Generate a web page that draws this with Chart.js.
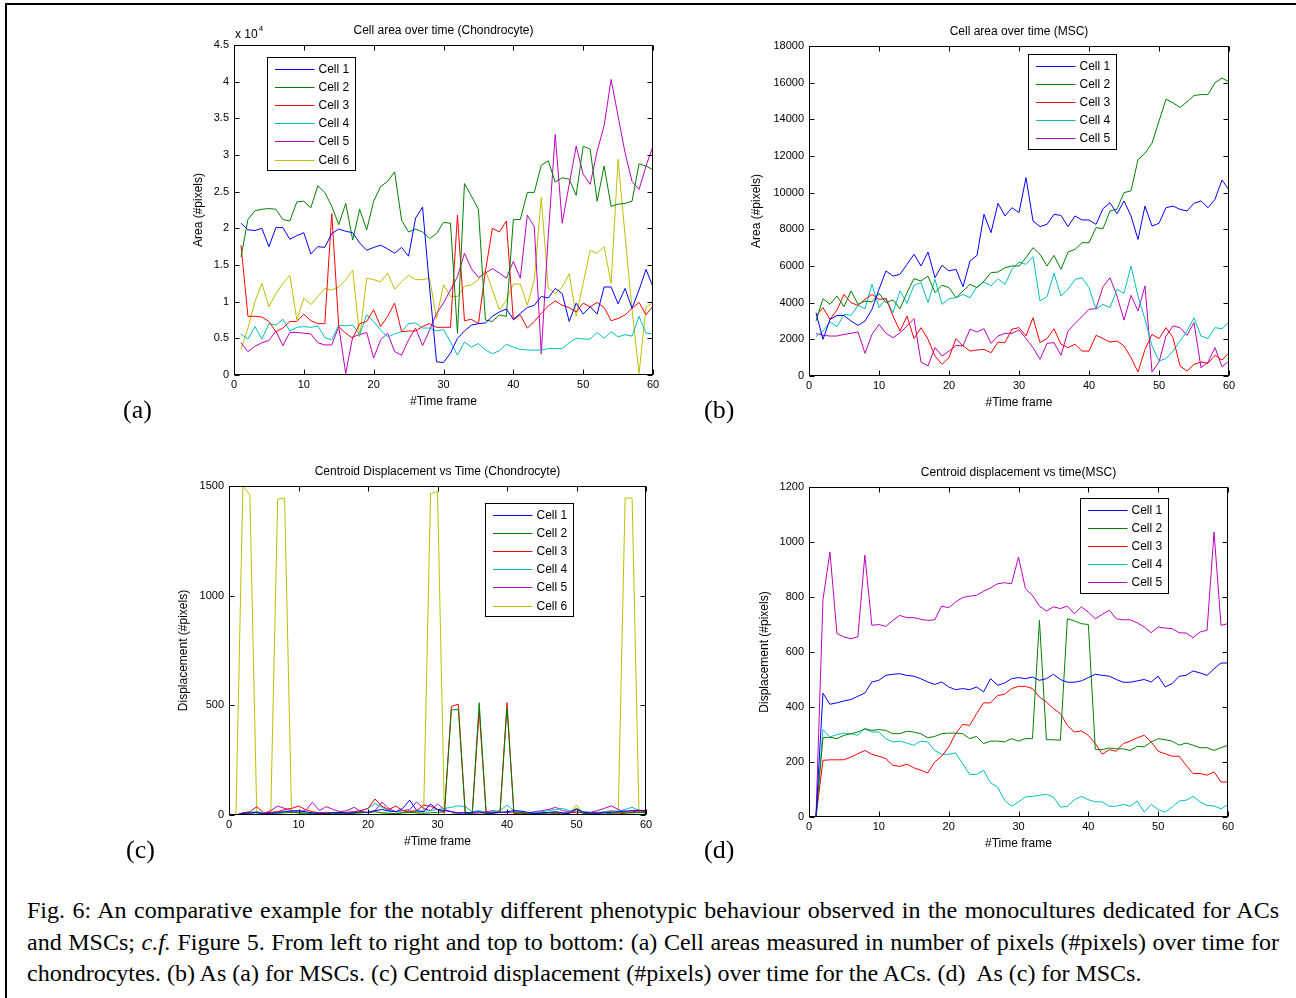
<!DOCTYPE html>
<html>
<head>
<meta charset="utf-8">
<title>Cell area and centroid displacement</title>
<script src="https://cdn.jsdelivr.net/npm/chart.js@4.4.1/dist/chart.umd.min.js"></script>
<style>
  html, body { margin: 0; padding: 0; background: #fff; }
  body { position: relative; width: 1296px; height: 998px; overflow: hidden; }
  .sheet { position: absolute; left: 5px; top: 3px; width: 1400px; height: 1100px;
           border-left: 2px solid #000; border-top: 2px solid #000; }
  canvas { position: absolute; }
  .tag { position: absolute; font: 26px "Liberation Serif", "Times New Roman", serif; color: #000; line-height: 26px; }
  .cap { position: absolute; left: 27px; width: 1252px; color: #000; white-space: nowrap;
         font: 24px "Liberation Serif", "Times New Roman", serif; line-height: 32px; }
  .cap span { display: inline-block; }
</style>
</head>
<body>
<div class="sheet"></div>
<canvas id="chartA"></canvas>
<canvas id="chartB"></canvas>
<canvas id="chartC"></canvas>
<canvas id="chartD"></canvas>

<div class="tag" style="left:123px; top:397px;">(a)</div>
<div class="tag" style="left:704px; top:397px;">(b)</div>
<div class="tag" style="left:126px; top:837px;">(c)</div>
<div class="tag" style="left:704px; top:837px;">(d)</div>

<div class="cap" style="top:894px;"><span class="just">Fig. 6: An comparative example for the notably different phenotypic behaviour observed in the monocultures dedicated for ACs</span></div>
<div class="cap" style="top:926px;"><span class="just">and MSCs; <i>c.f.</i> Figure 5. From left to right and top to bottom: (a) Cell areas measured in number of pixels (#pixels) over time for</span></div>
<div class="cap" style="top:957px;"><span>chondrocytes. (b) As (a) for MSCs. (c) Centroid displacement (#pixels) over time for the ACs. (d)&nbsp; As (c) for MSCs.</span></div>

<script>
// time frames (x axis)
const frames = [1,2,3,4,5,6,7,8,9,10,11,12,13,14,15,16,17,18,19,20,
  21,22,23,24,25,26,27,28,29,30,31,32,33,34,35,36,37,38,39,40,
  41,42,43,44,45,46,47,48,49,50,51,52,53,54,55,56,57,58,59,60];

const cells6 = ['Cell 1', 'Cell 2', 'Cell 3', 'Cell 4', 'Cell 5', 'Cell 6'];
const cells5 = ['Cell 1', 'Cell 2', 'Cell 3', 'Cell 4', 'Cell 5'];

// (a) cell area, chondrocytes, in units of 10^4 pixels
const areaChondro1 = [2.07,1.98,1.97,2.0,1.75,2.01,2.01,1.85,1.9,1.94, 1.65,1.75,1.74,1.93,1.99,1.96,1.94,1.8,1.7,1.74,
  1.77,1.72,1.66,1.74,1.62,2.14,2.29,1.2,0.18,0.17, 0.3,0.5,0.6,0.68,0.7,0.71,0.8,0.86,0.9,0.76,
  0.84,0.92,0.95,1.07,1.05,1.18,1.11,0.73,0.98,0.83, 0.93,0.83,1.2,1.2,0.97,1.18,0.91,1.16,1.44,1.2];
const areaChondro2 = [1.61,2.12,2.24,2.26,2.27,2.26,2.12,2.1,2.36,2.37, 2.28,2.58,2.49,2.3,2.05,2.34,1.84,2.26,1.98,2.37,
  2.57,2.64,2.77,2.11,1.95,1.99,1.95,1.86,1.93,2.08, 2.07,0.57,2.61,2.44,2.26,0.75,0.73,0.82,0.8,2.12,
  2.12,2.49,2.49,2.86,2.92,2.63,2.69,2.67,2.45,3.12, 3.08,2.37,2.85,2.3,2.33,2.34,2.37,2.88,2.85,2.8];
const areaChondro3 = [1.77,0.8,0.8,0.79,0.73,0.59,0.64,0.73,0.73,0.83, 0.74,0.7,0.7,2.2,0.66,0.57,0.5,0.7,0.73,0.89,
  0.66,0.8,0.98,0.59,0.6,0.6,0.66,0.7,0.65,0.65, 0.65,2.18,0.74,0.76,0.7,1.41,2.0,1.95,2.1,0.75,
  0.82,0.64,0.73,0.84,0.94,1.01,0.95,0.92,0.86,0.98, 0.93,0.99,0.92,0.74,0.77,0.82,0.91,0.99,0.82,0.94];
const areaChondro4 = [0.56,0.49,0.66,0.49,0.7,0.68,0.76,0.6,0.65,0.66, 0.65,0.67,0.51,0.48,0.68,0.67,0.68,0.55,0.82,0.73,
  0.61,0.52,0.56,0.59,0.7,0.71,0.64,0.64,0.6,0.62, 0.45,0.27,0.45,0.38,0.43,0.34,0.29,0.33,0.42,0.38,
  0.35,0.34,0.34,0.34,0.36,0.36,0.36,0.44,0.5,0.49, 0.49,0.58,0.5,0.59,0.52,0.55,0.53,0.8,0.57,0.56];
const areaChondro5 = [0.44,0.32,0.39,0.44,0.47,0.6,0.4,0.58,0.58,0.57, 0.56,0.44,0.41,0.41,0.66,0.02,0.52,0.55,0.58,0.23,
  0.48,0.57,0.32,0.27,0.48,0.64,0.4,0.61,0.84,0.98, 1.16,1.34,1.66,1.45,1.33,1.39,1.45,1.39,1.32,1.55,
  1.32,2.18,2.02,0.29,1.9,3.28,2.07,2.6,3.12,2.74, 2.6,3.05,3.4,4.03,3.53,3.03,2.64,2.53,2.85,3.12];
const areaChondro6 = [0.35,0.64,1.0,1.25,0.93,1.11,1.25,1.36,0.75,1.05, 0.96,1.07,1.18,1.16,1.2,1.3,1.43,0.52,1.32,1.3,
  1.27,1.39,1.17,1.27,1.36,1.3,1.3,1.32,0.77,1.23, 1.07,1.07,1.21,1.23,1.3,1.43,1.16,0.89,1.02,1.24,
  1.24,0.95,1.3,2.42,1.18,1.11,1.2,1.38,0.8,1.25, 1.7,1.66,1.75,1.25,2.94,1.9,0.9,0.02,0.93,0.98];

// (b) cell area, MSCs, pixels
const areaMsc1 = [3450,2000,3090,3300,3300,3000,2760,3000,3640,4730, 5730,5450,5550,6090,6640,6000,6760,5360,6040,5730,
  5820,4870,6270,6580,8820,7820,9420,8730,9180,8910, 10820,8450,8150,8270,8820,8760,8150,8730,8510,8510,
  8270,9130,9450,8850,9550,8730,7450,9270,8180,8330, 9180,9270,9090,9000,9420,9550,9180,9640,10690,10150];
const areaMsc2 = [3000,4220,3910,4360,3780,4640,3910,4090,4040,4510, 4000,4150,3670,4550,5310,5180,5450,4550,4950,4820,
  4270,4640,5000,4820,5180,5640,5670,5910,6000,6000, 6450,7000,6640,6000,6580,5820,6760,6910,7270,7270,
  8090,8040,9000,9100,10000,10100,11800,12150,12700,13900, 15100,14900,14650,14950,15300,15350,15350,16000,16250,16050];
const areaMsc3 = [3270,3730,3090,3600,4450,4000,3850,4180,4450,4180, 4220,3270,2450,3270,2040,2640,2000,1090,640,1000,
  2040,1640,1360,1420,1450,1270,1850,1820,2550,2640, 2180,3180,1820,2040,2580,1730,1550,1730,1360,1360,
  2220,2040,1850,1910,1640,1000,220,1450,2270,2040, 2640,2090,550,270,640,760,690,1130,870,1270];
const areaMsc4 = [2150,2450,2950,2690,3360,3310,3850,3670,5000,3730, 4220,3450,4640,3960,4950,5090,4000,5270,3910,4220,
  4270,4450,4270,4870,5130,4910,5310,5000,5820,6220, 6090,6510,4090,4330,5600,4360,4730,5270,5360,4820,
  3640,3910,3730,4730,4510,6000,4360,3090,1640,820, 950,1360,1910,2450,3180,2180,2040,2640,2580,2950];
const areaMsc5 = [2310,2220,2180,2180,2270,2330,2400,1240,2270,2820, 2330,2090,2360,2730,3130,760,550,1550,1090,1360,
  1670,1640,2550,2400,2580,1780,2180,2330,2330,2510, 2040,1550,910,1780,1820,1130,2450,2870,3240,3640,
  3670,4870,5360,4360,3050,4400,3550,4910,220,760, 2180,2730,2640,2220,2910,450,760,1550,510,820];

// (c) centroid displacement, chondrocytes, pixels
const dispChondro1 = [0,8,10,12,5,8,10,15,18,20, 15,10,8,5,10,12,8,10,15,12,
  20,25,18,15,30,68,20,15,50,25, 20,15,8,10,12,15,8,10,12,15,
  20,18,12,8,10,12,15,10,8,30, 12,10,8,10,12,15,18,20,22,20];
const dispChondro2 = [0,5,8,10,5,6,8,10,12,10, 8,6,5,8,10,6,5,8,10,12,
  15,10,8,6,10,12,10,8,10,12, 15,480,480,5,8,512,10,8,12,490,
  10,8,5,6,8,10,6,5,8,25, 6,5,8,10,6,5,8,10,12,10];
const dispChondro3 = [0,10,15,38,10,12,15,25,30,41, 25,15,10,12,10,8,12,15,20,30,
  73,40,25,41,20,15,20,45,40,25, 10,495,505,5,5,477,5,10,15,512,
  5,10,8,6,8,10,12,8,10,15, 8,6,10,12,15,10,12,15,18,15];
const dispChondro4 = [0,8,12,15,10,12,15,18,15,12, 10,8,10,12,8,10,12,15,20,30,
  53,35,20,15,12,20,15,18,20,25, 30,35,42,38,15,20,10,15,20,45,
  20,15,10,12,15,20,25,30,20,25, 15,10,12,15,20,18,25,35,20,15];
const dispChondro5 = [0,5,10,12,8,20,41,30,20,15, 20,58,20,38,25,15,20,35,15,10,
  20,59,30,15,20,25,59,30,20,50, 25,15,10,12,8,10,15,20,12,10,
  15,12,10,15,20,25,35,20,15,10, 15,12,20,30,42,25,15,10,12,10];
const dispChondro6 = [0,1500,1460,0,5,0,1440,1445,0,5, 8,10,5,8,10,6,5,8,10,12,
  15,10,8,6,10,12,10,0,1465,1475, 0,5,8,10,6,5,8,10,12,15,
  10,8,5,6,8,10,6,5,8,45, 6,5,8,10,6,0,1445,1445,0,5];

// (d) centroid displacement, MSCs, pixels
const dispMsc1 = [0,450,410,415,422,427,439,451,491,497, 515,519,521,515,512,503,491,482,491,473,
  463,467,463,473,455,503,479,487,503,507, 503,509,497,503,519,500,490,490,495,507,
  519,515,512,500,490,490,495,500,491,512, 473,485,512,515,531,524,515,539,560,560];
const dispMsc2 = [0,288,290,285,297,303,309,321,315,318, 315,303,303,312,309,303,288,293,303,305,
  305,303,285,293,267,276,276,273,285,276, 285,285,715,281,281,279,721,713,703,700,
  246,245,251,248,248,242,257,255,273,285, 281,276,261,269,261,252,252,242,252,261];
const dispMsc3 = [0,206,208,208,208,218,230,242,228,221, 212,188,184,192,179,170,160,200,221,255,
  303,337,333,376,415,415,442,446,467,475, 475,467,436,418,394,376,333,309,313,297,
  267,228,245,239,267,276,288,297,273,239, 230,221,221,188,158,158,152,164,127,127];
const dispMsc4 = [0,318,291,300,305,303,297,321,309,309, 285,273,276,269,261,276,273,242,228,228,
  233,194,155,155,170,124,109,61,39,55, 73,75,79,82,73,36,39,63,75,63,
  55,55,39,39,46,39,58,18,46,27, 18,36,58,61,75,55,42,40,30,46];
const dispMsc5 = [0,790,964,667,655,648,655,952,697,700, 693,715,733,725,725,719,715,717,767,761,
  782,798,803,806,821,833,848,852,848,945, 830,806,767,749,764,758,767,739,764,745,
  721,737,752,721,717,717,706,691,670,691, 687,685,670,669,652,673,679,1036,697,703];

// old MATLAB line colour order
const lineColors = ['#0000ff', '#008000', '#ff0000', '#00bfbf', '#bf00bf', '#bfbf00'];
const FONT = '"Liberation Sans", Arial, Helvetica, sans-serif';

// frame, inward ticks, title and legend drawn the MATLAB way
const matlabBox = {
  id: 'matlabBox',
  afterDatasetsDraw(chart, args, opts) {
    const { ctx, chartArea: a, scales } = chart;
    const L = Math.round(a.left) + 0.5, R = Math.round(a.right) - 0.5;
    const T = Math.round(a.top) + 0.5, B = Math.round(a.bottom) - 0.5;
    ctx.save();
    ctx.strokeStyle = '#000';
    ctx.lineWidth = 1;
    ctx.strokeRect(L, T, R - L, B - T);
    ctx.beginPath();
    scales.x.ticks.forEach(t => {
      const px = Math.round(scales.x.getPixelForValue(t.value)) + 0.5;
      ctx.moveTo(px, B); ctx.lineTo(px, B - 5);
      ctx.moveTo(px, T); ctx.lineTo(px, T + 5);
    });
    scales.y.ticks.forEach(t => {
      const py = Math.round(scales.y.getPixelForValue(t.value)) + 0.5;
      ctx.moveTo(L, py); ctx.lineTo(L + 5, py);
      ctx.moveTo(R, py); ctx.lineTo(R - 5, py);
    });
    ctx.stroke();

    ctx.fillStyle = '#000';
    ctx.font = '12px ' + FONT;
    ctx.textAlign = 'center';
    ctx.textBaseline = 'middle';
    ctx.fillText(opts.title, (a.left + a.right) / 2, a.top - 14);

    if (opts.exponent) {
      ctx.textAlign = 'left';
      ctx.fillText('x 10', a.left + 1, a.top - 10);
      const w = ctx.measureText('x 10').width;
      ctx.font = '8px ' + FONT;
      ctx.fillText(opts.exponent, a.left + 2 + w, a.top - 16);
    }

    // legend box
    const sets = chart.data.datasets;
    const lx = Math.round(a.left + opts.legend[0]) + 0.5;
    const ly = Math.round(a.top + opts.legend[1]) + 0.5;
    const lh = Math.round(11.5 + (sets.length - 1) * 18.1 + 11);
    ctx.fillStyle = '#fff';
    ctx.fillRect(lx, ly, 88, lh);
    ctx.strokeStyle = '#000';
    ctx.strokeRect(lx, ly, 88, lh);
    ctx.font = '12px ' + FONT;
    ctx.textAlign = 'left';
    sets.forEach((ds, i) => {
      const cy = Math.round(ly + 11.5 + i * 18.1) + 0.5;
      ctx.strokeStyle = lineColors[i];
      ctx.lineWidth = 1;
      ctx.beginPath();
      ctx.moveTo(lx + 7.5, cy);
      ctx.lineTo(lx + 47, cy);
      ctx.stroke();
      ctx.fillStyle = '#000';
      ctx.fillText(ds.label, lx + 51, cy);
    });
    ctx.restore();
  }
};

const panels = [
  { id: 'chartA', box: [234, 45, 653, 375], title: 'Cell area over time (Chondrocyte)',
    yTitle: 'Area (#pixels)', yMax: 4.5, yStep: 0.5, yGap: 35, exponent: '4',
    names: cells6, series: [areaChondro1, areaChondro2, areaChondro3, areaChondro4, areaChondro5, areaChondro6],
    legend: [267, 57] },
  { id: 'chartB', box: [809, 46, 1229, 376], title: 'Cell area over time (MSC)',
    yTitle: 'Area (#pixels)', yMax: 18000, yStep: 2000, yGap: 52,
    names: cells5, series: [areaMsc1, areaMsc2, areaMsc3, areaMsc4, areaMsc5],
    legend: [1028, 54] },
  { id: 'chartC', box: [229, 486, 646, 815], title: 'Centroid Displacement vs Time (Chondrocyte)',
    yTitle: 'Displacement (#pixels)', yMax: 1500, yStep: 500, yGap: 45,
    names: cells6, series: [dispChondro1, dispChondro2, dispChondro3, dispChondro4, dispChondro5, dispChondro6],
    legend: [485, 503] },
  { id: 'chartD', box: [809, 487, 1228, 817], title: 'Centroid displacement vs time(MSC)',
    yTitle: 'Displacement (#pixels)', yMax: 1200, yStep: 200, yGap: 44,
    names: cells5, series: [dispMsc1, dispMsc2, dispMsc3, dispMsc4, dispMsc5],
    legend: [1080, 498] }
];

panels.forEach(p => {
  const [l, t, r, b] = p.box;
  const cv = document.getElementById(p.id);
  cv.width = r - l + 120;
  cv.height = b - t + 90;
  cv.style.left = (l - 95) + 'px';
  cv.style.top = (t - 40) + 'px';

  new Chart(cv, {
    type: 'line',
    data: {
      datasets: p.series.map((vals, i) => ({
        label: p.names[i],
        data: frames.map((f, k) => ({ x: f, y: vals[k] })),
        borderColor: lineColors[i],
        borderWidth: 1,
        pointRadius: 0,
        tension: 0,
        fill: false
      }))
    },
    options: {
      responsive: false,
      animation: false,
      layout: { padding: { top: 40, right: 25, left: 0, bottom: 0 } },
      plugins: {
        legend: { display: false },
        tooltip: { enabled: false },
        matlabBox: { title: p.title, exponent: p.exponent, legend: [p.legend[0] - l, p.legend[1] - t] }
      },
      scales: {
        x: {
          type: 'linear', min: 0, max: 60,
          grid: { display: false, drawTicks: false },
          border: { display: false },
          ticks: { stepSize: 10, padding: 3, color: '#000', font: { family: FONT, size: 11 }, maxRotation: 0 },
          title: { display: true, text: '#Time frame', color: '#000', font: { family: FONT, size: 12 },
                   padding: { top: 0, bottom: 15.8 } },
          afterFit: s => { s.height = 50; }
        },
        y: {
          type: 'linear', min: 0, max: p.yMax,
          grid: { display: false, drawTicks: false },
          border: { display: false },
          ticks: { stepSize: p.yStep, padding: 5, color: '#000', font: { family: FONT, size: 11 },
                   callback: v => String(v) },
          title: { display: true, text: p.yTitle, color: '#000', font: { family: FONT, size: 12 },
                   padding: { top: 95 - p.yGap - 7.2, bottom: 0 } },
          afterFit: s => { s.width = 95; }
        }
      }
    },
    plugins: [matlabBox]
  });
});

// stretch the first two caption lines to the full width, like justified print
document.querySelectorAll('.cap .just').forEach(sp => {
  const gaps = sp.textContent.split(' ').length - 1;
  const extra = (1252 - sp.getBoundingClientRect().width) / gaps;
  sp.style.wordSpacing = extra + 'px';
});
</script>
</body>
</html>
